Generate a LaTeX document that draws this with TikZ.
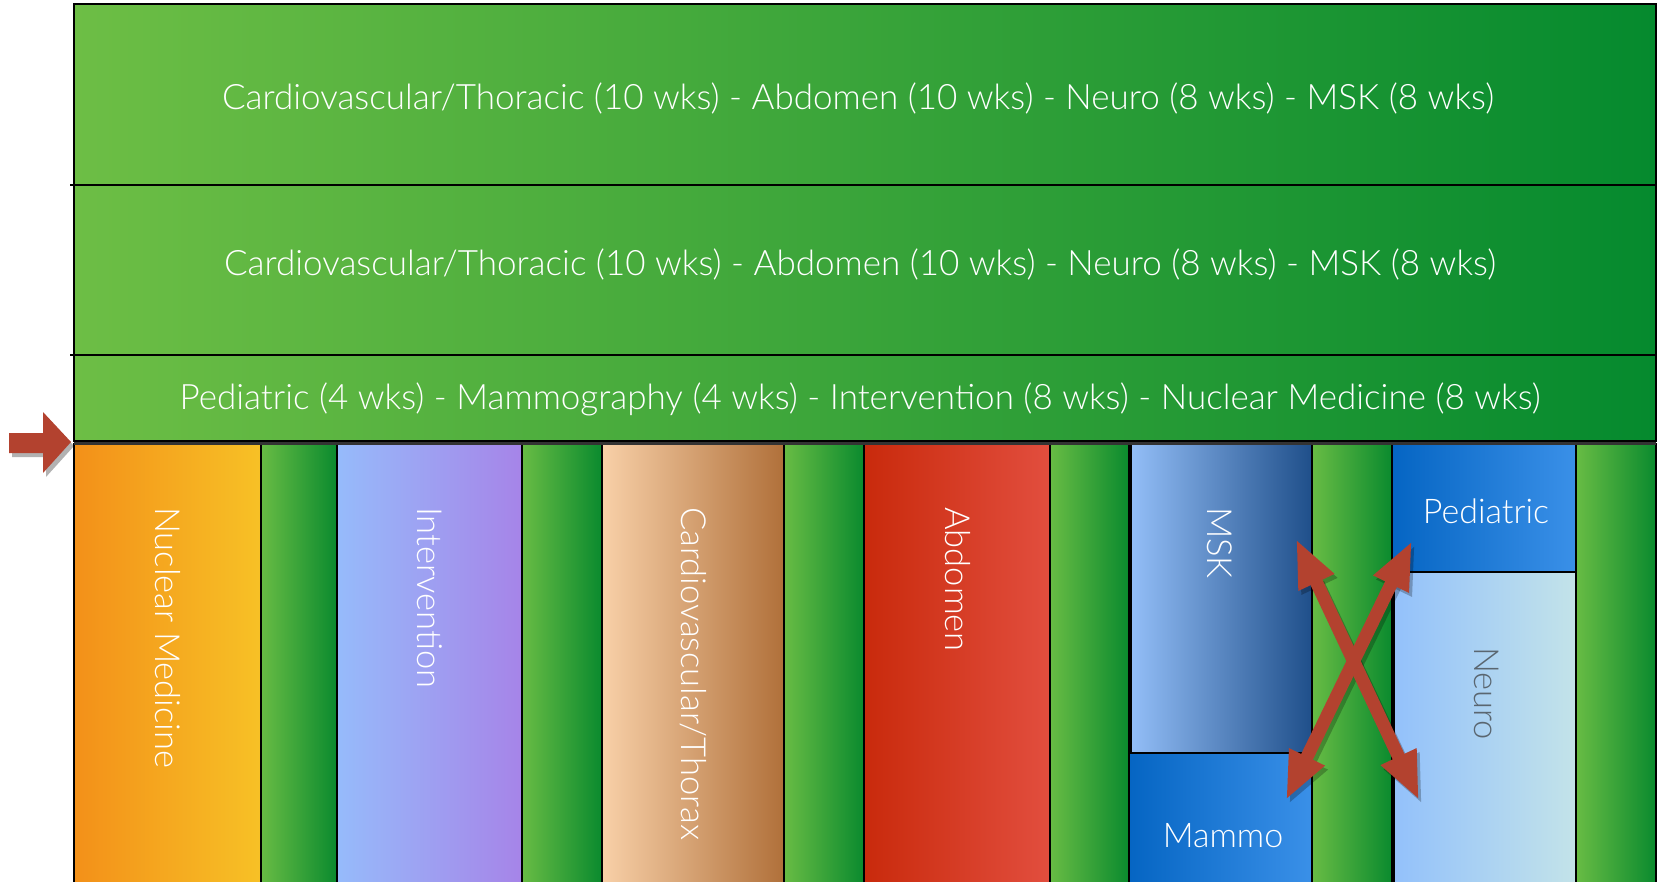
\documentclass[tikz,border=0pt]{standalone}
\usepackage{fontspec}
\setmainfont{Lato}[UprightFont={* Light}]
\usetikzlibrary{arrows.meta}

\definecolor{bandL}{HTML}{6DBE45}
\definecolor{bandR}{HTML}{058A2E}
\definecolor{gapL}{HTML}{68BC44}
\definecolor{gapR}{HTML}{0A8A2E}
\definecolor{nucL}{HTML}{F39019}
\definecolor{nucR}{HTML}{F7C126}
\definecolor{intL}{HTML}{96BBFB}
\definecolor{intR}{HTML}{A684E8}
\definecolor{cvtL}{HTML}{F8D0A8}
\definecolor{cvtR}{HTML}{B0703A}
\definecolor{abdL}{HTML}{C92A0C}
\definecolor{abdR}{HTML}{E24E3E}
\definecolor{mskL}{HTML}{93BEF7}
\definecolor{mskR}{HTML}{1F4F8A}
\definecolor{blueL}{HTML}{0565C3}
\definecolor{blueR}{HTML}{3A90E8}
\definecolor{neuL}{HTML}{93C1FB}
\definecolor{neuR}{HTML}{C3E3E9}
\definecolor{neuText}{HTML}{5A6670}
\definecolor{arrowRed}{HTML}{B3422F}

\begin{document}
\begin{tikzpicture}[x=1pt,y=-1pt,
  box/.style 2 args={draw=black, line width=1.4pt, anchor=north west,
    inner sep=0pt, outer sep=0pt, left color=#1, right color=#2},
  bandtext/.style={anchor=base, inner sep=0pt, text=white,
    font=\fontsize{35}{35}\selectfont},
  vlabel/.style={rotate=-90, anchor=base west, inner sep=0pt, text=white,
    font=\fontsize{34.5}{34.5}\selectfont},
  hlabel/.style={anchor=base, inner sep=0pt, text=white,
    font=\fontsize{34}{34}\selectfont},
  xarrow/.style={line width=13pt, arrowRed,
    {Triangle[length=48pt,width=36pt]}-{Triangle[length=48pt,width=36pt]}},
  xshadow/.style={line width=13pt, black, opacity=0.25,
    {Triangle[length=48pt,width=36pt]}-{Triangle[length=48pt,width=36pt]}},
]
\useasboundingbox (0,0) rectangle (1662,881);

% three horizontal bands
\node[box={bandL}{bandR}, minimum width=1582pt, minimum height=181pt] (band1) at (74,4) {};
\node[box={bandL}{bandR}, minimum width=1582pt, minimum height=170pt] (band2) at (74,185) {};
\node[box={bandL}{bandR}, minimum width=1582pt, minimum height=86pt] (band3) at (74,355) {};

\node[bandtext] (t1) at (858,109) {Cardiovascular/Thoracic (10 wks) - Abdomen (10 wks) - Neuro (8 wks) - MSK (8 wks)};
\node[bandtext] (t2) at (860,275) {Cardiovascular/Thoracic (10 wks) - Abdomen (10 wks) - Neuro (8 wks) - MSK (8 wks)};
\node[bandtext] (t3) at (860,409) {Pediatric (4 wks) - Mammography (4 wks) - Intervention (8 wks) - Nuclear Medicine (8 wks)};

% band dividers reaching a little past the left edge
\draw[line width=1.4pt] (70,185) -- (1656,185);
\draw[line width=1.4pt] (70,355) -- (1656,355);

% columns
\node[box={nucL}{nucR}, minimum width=187pt, minimum height=440pt] (nuc) at (74,444) {};
\node[box={gapL}{gapR}, minimum width=76pt, minimum height=440pt] (g1) at (261,444) {};
\node[box={intL}{intR}, minimum width=185pt, minimum height=440pt] (int) at (337,444) {};
\node[box={gapL}{gapR}, minimum width=80pt, minimum height=440pt] (g2) at (522,444) {};
\node[box={cvtL}{cvtR}, minimum width=182pt, minimum height=440pt] (cvt) at (602,444) {};
\node[box={gapL}{gapR}, minimum width=80pt, minimum height=440pt] (g3) at (784,444) {};
\node[box={abdL}{abdR}, minimum width=186pt, minimum height=440pt] (abd) at (864,444) {};
\node[box={gapL}{gapR}, minimum width=79pt, minimum height=440pt] (g4) at (1050,444) {};
\node[box={mskL}{mskR}, minimum width=181pt, minimum height=309pt] (msk) at (1131,444) {};
\node[box={blueL}{blueR}, minimum width=183pt, minimum height=131pt] (mammo) at (1129,753) {};
\node[box={gapL}{gapR}, minimum width=80pt, minimum height=440pt] (g5) at (1312,444) {};
\node[box={blueL}{blueR}, minimum width=184pt, minimum height=128pt] (ped) at (1392,444) {};
\node[box={neuL}{neuR}, minimum width=182pt, minimum height=312pt] (neuro) at (1394,572) {};
\node[box={gapL}{gapR}, minimum width=80pt, minimum height=440pt] (g6) at (1576,444) {};

% dark seam between the bands and the columns
\draw[line width=3pt, black!80] (74,443) -- (1656,443);

% column labels
\node[vlabel] (lnuc) at (155,507) {Nuclear Medicine};
\node[vlabel] (lint) at (417,507) {Intervention};
\node[vlabel] (lcvt) at (681,507) {Cardiovascular/Thorax};
\node[vlabel] (labd) at (945,507) {Abdomen};
\node[vlabel] (lmsk) at (1207,507) {MSK};
\node[vlabel, text=neuText] (lneuro) at (1474,647) {Neuro};
\node[hlabel] (lped) at (1486,523) {Pediatric};
\node[hlabel] (lmammo) at (1223,847) {Mammo};

% swap arrows
\coordinate (a1) at (1296,539);
\coordinate (a2) at (1419,800);
\coordinate (b1) at (1412,541);
\coordinate (b2) at (1286,800);
\draw[xshadow] ([xshift=3pt,yshift=-4pt]a1) -- ([xshift=3pt,yshift=-4pt]a2);
\draw[xshadow] ([xshift=3pt,yshift=-4pt]b1) -- ([xshift=3pt,yshift=-4pt]b2);
\draw[xarrow] (a1) -- (a2);
\draw[xarrow] (b1) -- (b2);

% pointer arrow on the left
\fill[black, opacity=0.3] (12,437) -- (46,437) -- (46,416) -- (74,446) -- (46,477) -- (46,457) -- (12,457) -- cycle;
\fill[arrowRed] (9,433) -- (43,433) -- (43,412) -- (71,442) -- (43,473) -- (43,453) -- (9,453) -- cycle;
\end{tikzpicture}
\end{document}
